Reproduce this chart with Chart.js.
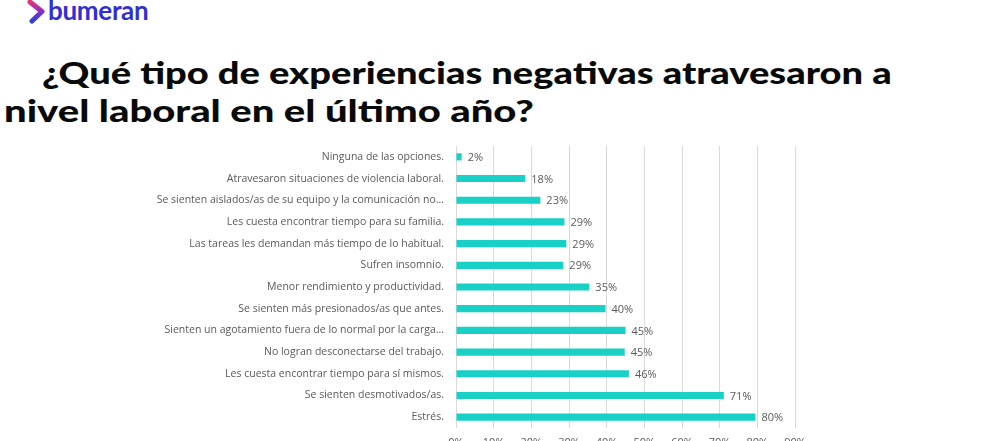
<!DOCTYPE html>
<html>
<head>
<meta charset="utf-8">
<script src="https://cdn.jsdelivr.net/npm/chart.js@4.4.1/dist/chart.umd.min.js"></script>
<style>
  html, body { margin: 0; padding: 0; background: #fff; overflow: hidden; }
  body { width: 992px; height: 441px; position: relative; }
  #logo { position: absolute; left: 26px; top: 0px; }
  #brand { position: absolute; left: 48px; top: -6px; font-family: "Lato", sans-serif; font-weight: bold;
           font-size: 26px; color: #2f2fd4; letter-spacing: -0.3px; }
  .title { position: absolute; font-family: "Lato", sans-serif; font-weight: 900; color: #0a0a0a;
           font-size: 31px; white-space: pre; transform-origin: 0 0; }
  #t1 { left: 33px; top: 53px; }
  #t2 { left: 4px; top: 91px; }
  #wrap { position: absolute; left: 0; top: 0; width: 992px; height: 470px; }
</style>
</head>
<body>
<svg id="logo" width="22" height="24" viewBox="0 0 22 24">
  <defs>
    <linearGradient id="g" x1="0" y1="0" x2="0" y2="1">
      <stop offset="0" stop-color="#e8307a"/>
      <stop offset="0.5" stop-color="#8a2fd0"/>
      <stop offset="1" stop-color="#2f3fd8"/>
    </linearGradient>
  </defs>
  <path d="M4 2 L16 11.5 L6 21" fill="none" stroke="url(#g)" stroke-width="5" stroke-linecap="round" stroke-linejoin="round"/>
</svg>
<div id="brand">bumeran</div>
<div class="title" id="t1"> ¿Qué tipo de experiencias negativas atravesaron a</div>
<div class="title" id="t2">nivel laboral en el último año?</div>
<div id="wrap"><canvas id="chart"></canvas></div>
<script>
const categories = [
  "Ninguna de las opciones.",
  "Atravesaron situaciones de violencia laboral.",
  "Se sienten aislados/as de su equipo y la comunicación no...",
  "Les cuesta encontrar tiempo para su familia.",
  "Las tareas les demandan más tiempo de lo habitual.",
  "Sufren insomnio.",
  "Menor rendimiento y productividad.",
  "Se sienten más presionados/as que antes.",
  "Sienten un agotamiento fuera de lo normal por la carga...",
  "No logran desconectarse del trabajo.",
  "Les cuesta encontrar tiempo para sí mismos.",
  "Se sienten desmotivados/as.",
  "Estrés."
];
const values = [1.5, 18.4, 22.4, 28.8, 29.3, 28.5, 35.4, 39.7, 45.0, 44.8, 45.9, 71.1, 79.5];
const valueLabels = ["2%", "18%", "23%", "29%", "29%", "29%", "35%", "40%", "45%", "45%", "46%", "71%", "80%"];
const xTicks = [0, 10, 20, 30, 40, 50, 60, 70, 80, 90];

// fit title lines to the widths in the picture
function fit(id, w) {
  const el = document.getElementById(id);
  el.style.transform = "scaleX(" + (w / el.offsetWidth) + ")";
}
fit("t1", 859);
fit("t2", 530);

const barLabels = {
  id: "barLabels",
  afterDatasetsDraw(c) {
    const ctx = c.ctx;
    const meta = c.getDatasetMeta(0);
    ctx.save();
    ctx.font = "11px 'Open Sans', sans-serif";
    ctx.fillStyle = "#595959";
    ctx.textBaseline = "middle";
    meta.data.forEach((bar, i) => {
      ctx.fillText(valueLabels[i], bar.x + 6, bar.y + 1);
    });
    ctx.restore();
  }
};

new Chart(document.getElementById("chart"), {
  type: "bar",
  data: {
    labels: categories,
    datasets: [{
      data: values,
      backgroundColor: "#19d0c6",
      barPercentage: 0.33,
      categoryPercentage: 1
    }]
  },
  plugins: [barLabels],
  options: {
    indexAxis: "y",
    responsive: true,
    maintainAspectRatio: false,
    animation: false,
    layout: { padding: { top: 146, right: 197, bottom: 12, left: 0 } },
    plugins: { legend: { display: false }, tooltip: { enabled: false } },
    scales: {
      x: {
        min: 0, max: 90,
        afterBuildTicks: s => { s.ticks = xTicks.map(v => ({ value: v })); },
        afterFit: s => { s.height = 30; },
        grid: { color: "#d9d9d9", drawTicks: false },
        border: { display: false },
        ticks: { padding: 8, color: "#595959", font: { family: "'Open Sans', sans-serif", size: 11 },
                 callback: v => v + "%" }
      },
      y: {
        afterFit: s => { s.width = 456; },
        grid: { display: false },
        border: { display: false },
        ticks: { padding: 4, color: "#595959", font: { family: "'Open Sans', sans-serif", size: 10.5 }, autoSkip: false }
      }
    }
  }
});
</script>
</body>
</html>
